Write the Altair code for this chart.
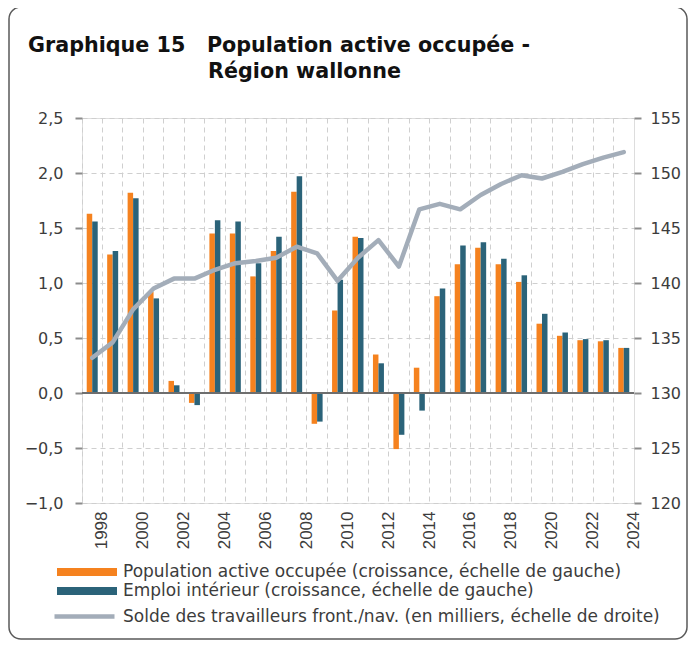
import altair as alt
import pandas as pd

years = list(range(1998, 2025))
pop_active = [1.63, 1.26, 1.82, 0.92, 0.11, -0.09, 1.45, 1.45, 1.06, 1.29, 1.83, -0.28, 0.75, 1.42,
              0.35, -0.51, 0.23, 0.88, 1.17, 1.32, 1.17, 1.01, 0.63, 0.52, 0.48, 0.47, 0.41]
emploi_int = [1.56, 1.29, 1.77, 0.86, 0.07, -0.11, 1.57, 1.56, 1.18, 1.42, 1.97, -0.26, 1.03, 1.41,
              0.27, -0.38, -0.16, 0.95, 1.34, 1.37, 1.22, 1.07, 0.72, 0.55, 0.49, 0.48, 0.41]
solde = [133.2, 134.6, 137.6, 139.5, 140.4, 140.4, 141.2, 141.8, 142.0, 142.3, 143.3, 142.7, 140.2, 142.3,
         143.9, 141.5, 146.7, 147.2, 146.7, 148.0, 149.0, 149.8, 149.5, 150.1, 150.8, 151.4, 151.9]

lab_pop = "Population active occupée (croissance, échelle de gauche)"
lab_emp = "Emploi intérieur (croissance, échelle de gauche)"
lab_solde = "Solde des travailleurs front./nav. (en milliers, échelle de droite)"

left_ticks = [-1.0, -0.5, 0.0, 0.5, 1.0, 1.5, 2.0, 2.5]
right_ticks = [120, 125, 130, 135, 140, 145, 150, 155]

ORANGE = "#f5821f"
TEAL = "#2b6379"
GREY_LINE = "#a3adb9"
AXIS_GREY = "#8c8c8c"
TXT = "#3c3c3c"
FONT = "DejaVu Sans"

bars_df = pd.DataFrame({
    "year": years * 2,
    "value": pop_active + emploi_int,
    "serie": [lab_pop] * len(years) + [lab_emp] * len(years),
})
line_df = pd.DataFrame({"year": years, "solde": solde, "serie2": [lab_solde] * len(years)})

W, H = 552, 385

x_enc = alt.X(
    "year:O",
    scale=alt.Scale(paddingInner=0, paddingOuter=0),
    axis=alt.Axis(
        title=None, grid=True, bandPosition=0, gridDash=[5, 4], gridColor="#cfcfcf", gridWidth=1,
        ticks=False, domain=False, labelAngle=-90, labelOffset=10.2, labelPadding=8,
        labelExpr="datum.value % 2 == 0 ? datum.label : ''",
        labelFont="Liberation Sans", labelFontSize=17, labelColor=TXT,
    ),
)

bars = alt.Chart(bars_df).mark_bar().encode(
    x=x_enc,
    xOffset=alt.XOffset("serie:N", sort=[lab_pop, lab_emp],
                        scale=alt.Scale(paddingInner=0, paddingOuter=0.86)),
    y=alt.Y(
        "value:Q",
        scale=alt.Scale(domain=[-1.0, 2.5], nice=False),
        axis=alt.Axis(
            title=None, values=left_ticks, grid=True, gridDash=[5, 4], gridColor="#cfcfcf",
            domain=False, tickColor=AXIS_GREY, tickSize=7, tickWidth=2, labelPadding=12,
            labelExpr="replace(format(datum.value, '.1f'), '.', ',')",
            labelFont=FONT, labelFontSize=16, labelColor=TXT,
        ),
    ),
    color=alt.Color(
        "serie:N",
        scale=alt.Scale(domain=[lab_pop, lab_emp], range=[ORANGE, TEAL]),
        legend=alt.Legend(
            title=None, orient="none", legendX=-5, legendY=444, direction="vertical",
            symbolType="M-3,-0.4H3V0.4H-3Z", symbolSize=400, symbolStrokeWidth=0,
            labelFont=FONT, labelFontSize=17, labelColor=TXT, labelLimit=700,
            rowPadding=1, labelOffset=26, padding=0,
        ),
    ),
)

zero = alt.Chart(pd.DataFrame({"z": [0]})).mark_rule(color="#6e6e6e", strokeWidth=2).encode(
    y=alt.Y("z:Q", scale=alt.Scale(domain=[-1.0, 2.5], nice=False))
)

left = alt.layer(bars, zero)

line = alt.Chart(line_df).mark_line(strokeWidth=4.5, strokeJoin="round", strokeCap="round").encode(
    x=alt.X("year:O"),
    y=alt.Y(
        "solde:Q",
        scale=alt.Scale(domain=[120, 155], nice=False),
        axis=alt.Axis(
            title=None, orient="right", values=right_ticks, grid=False, domain=False,
            tickColor=AXIS_GREY, tickSize=7, tickWidth=2, labelPadding=9,
            labelFont=FONT, labelFontSize=16, labelColor=TXT,
        ),
    ),
    stroke=alt.Stroke(
        "serie2:N",
        scale=alt.Scale(domain=[lab_solde], range=[GREY_LINE]),
        legend=alt.Legend(
            title=None, orient="none", legendX=-10, legendY=486, direction="vertical",
            symbolType="M-3,0H3", symbolSize=400, symbolStrokeWidth=4.5,
            labelFont=FONT, labelFontSize=17, labelColor=TXT, labelLimit=700,
            labelOffset=26, padding=0,
        ),
    ),
)

frame = alt.Chart(pd.DataFrame({"f": [0]})).mark_rect(
    fillOpacity=0, stroke="#5a5a5a", strokeWidth=1.5, cornerRadius=12
).encode(
    x=alt.value(-73), x2=alt.value(605), y=alt.value(-111), y2=alt.value(521)
)

title_l1 = "Graphique 15\u00a0\u00a0\u00a0Population active occupée -"
title_l2 = "\u200b" + "\u00a0" * 25 + "Région wallonne"

chart = alt.layer(left, line, frame).resolve_scale(y="independent", color="independent").properties(
    width=W, height=H,
    autosize=alt.AutoSizeParams(type="none"),
    padding={"left": 74, "top": 110, "right": 54, "bottom": 138},
    title=alt.TitleParams(
        text=[title_l1, title_l2], anchor="start", frame="group", dx=-54, offset=0, dy=76,
        font=FONT, fontSize=20.7, fontWeight="bold", color="#111111", lineHeight=26,
    ),
).configure_view(stroke=AXIS_GREY, strokeWidth=2.5).configure(background="white")

chart.save("out.html", embed_options={"renderer": "svg", "actions": False})
